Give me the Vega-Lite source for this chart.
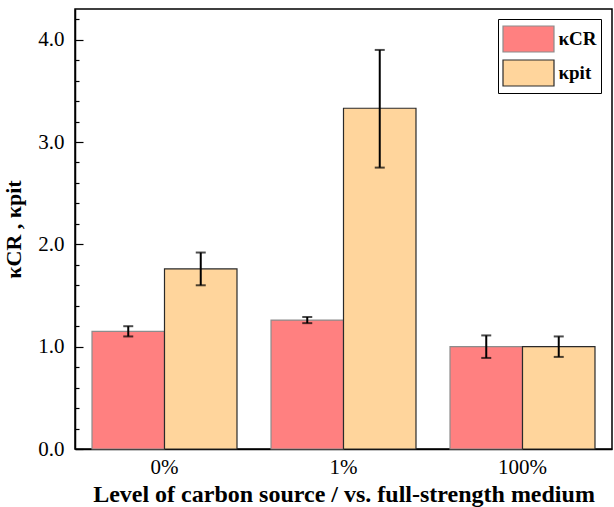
{
  "$schema": "https://vega.github.io/schema/vega-lite/v6.json",
  "width": 537,
  "height": 440,
  "autosize": {"type": "none"},
  "padding": {"left": 75, "top": 9, "right": 2, "bottom": 58},
  "config": {
    "view": {"stroke": "black", "strokeWidth": 1.5},
    "font": "Liberation Serif",
    "axis": {"domainColor": "black", "domainWidth": 1.5, "tickColor": "black", "labelColor": "black", "titleColor": "black", "grid": false}
  },
  "data": {
    "values": [
      {"level": "0%", "series": "κCR", "value": 1.15, "lo": 1.10, "hi": 1.20},
      {"level": "0%", "series": "κpit", "value": 1.76, "lo": 1.60, "hi": 1.92},
      {"level": "1%", "series": "κCR", "value": 1.26, "lo": 1.23, "hi": 1.29},
      {"level": "1%", "series": "κpit", "value": 3.33, "lo": 2.75, "hi": 3.90},
      {"level": "100%", "series": "κCR", "value": 1.0, "lo": 0.89, "hi": 1.11},
      {"level": "100%", "series": "κpit", "value": 1.0, "lo": 0.90, "hi": 1.10}
    ]
  },
  "resolve": {"axis": {"y": "independent"}},
  "layer": [
    {
      "mark": {"type": "bar", "strokeWidth": 1.2},
      "encoding": {
        "x": {
          "field": "level", "type": "nominal", "sort": ["0%", "1%", "100%"],
          "scale": {"paddingInner": 0.19, "paddingOuter": 0.095},
          "axis": {"labelAngle": 0, "ticks": false, "labelFontSize": 21, "labelPadding": 7, "title": "Level of carbon source / vs. full-strength medium", "titleFontSize": 24, "titleFontWeight": "bold", "titlePadding": 5}
        },
        "xOffset": {"field": "series", "type": "nominal", "sort": ["κCR", "κpit"], "scale": {"paddingInner": 0, "paddingOuter": 0}},
        "y": {
          "field": "value", "type": "quantitative",
          "scale": {"domain": [0, 4.3], "nice": false, "zero": true},
          "axis": {
            "orient": "left",
            "values": [0, 1, 2, 3, 4],
            "format": ".1f",
            "labelOverlap": false,
            "tickSize": -8,
            "tickWidth": 1.2,
            "labelFontSize": 21,
            "labelPadding": 19,
            "title": "κCR , κpit",
            "titleFontSize": 22,
            "titleFontWeight": "bold",
            "titlePadding": 12
          }
        },
        "fill": {
          "field": "series", "type": "nominal", "sort": ["κCR", "κpit"],
          "scale": {"range": ["#FF8080", "#FFD59C"]},
          "legend": {
            "title": null, "orient": "none", "legendX": 423, "legendY": 10,
            "strokeColor": "black", "padding": 4,
            "symbolType": "M-1.7,-0.867H1.7V0.867H-1.7Z", "symbolSize": 900,
            "symbolOffset": 10.5,
            "symbolStrokeWidth": 1.2, "labelFontSize": 19, "labelFontWeight": "bold",
            "rowPadding": 2, "labelOffset": 14, "labelLimit": 60,
            "encode": {"symbols": {"update": {"stroke": {"scale": "stroke", "field": "value"}}}}
          }
        },
        "stroke": {
          "field": "series", "type": "nominal", "sort": ["κCR", "κpit"],
          "scale": {"range": ["#8c8c8c", "#2a2a2a"]},
          "legend": null
        }
      }
    },
    {
      "mark": {"type": "rule", "color": "black", "strokeWidth": 2},
      "encoding": {
        "x": {"field": "level", "type": "nominal", "sort": ["0%", "1%", "100%"]},
        "xOffset": {"field": "series", "type": "nominal", "sort": ["κCR", "κpit"]},
        "y": {
          "field": "lo", "type": "quantitative",
          "axis": {
            "orient": "left", "offset": 0,
            "values": [0.2, 0.4, 0.6, 0.8, 1.2, 1.4, 1.6, 1.8, 2.2, 2.4, 2.6, 2.8, 3.2, 3.4, 3.6, 3.8, 4.2],
            "labels": false, "domain": false, "title": null,
            "tickSize": -4, "tickWidth": 1.2
          }
        },
        "y2": {"field": "hi"}
      }
    },
    {
      "mark": {"type": "tick", "color": "black", "thickness": 2, "size": 10},
      "encoding": {
        "x": {"field": "level", "type": "nominal", "sort": ["0%", "1%", "100%"]},
        "xOffset": {"field": "series", "type": "nominal", "sort": ["κCR", "κpit"]},
        "y": {"field": "lo", "type": "quantitative", "axis": null}
      }
    },
    {
      "mark": {"type": "tick", "color": "black", "thickness": 2, "size": 10},
      "encoding": {
        "x": {"field": "level", "type": "nominal", "sort": ["0%", "1%", "100%"]},
        "xOffset": {"field": "series", "type": "nominal", "sort": ["κCR", "κpit"]},
        "y": {"field": "hi", "type": "quantitative", "axis": null}
      }
    }
  ]
}
